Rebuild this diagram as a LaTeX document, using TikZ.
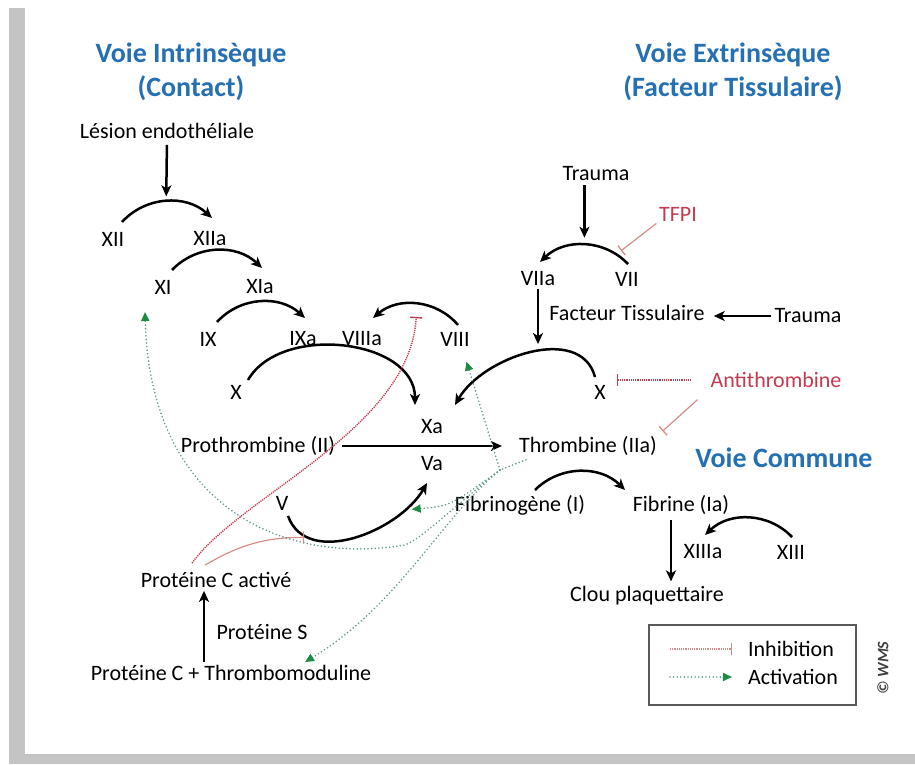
\documentclass[tikz,border=0pt]{standalone}
\usepackage{fontspec}
\setmainfont{Carlito}
\usetikzlibrary{arrows.meta}
\definecolor{voieblue}{RGB}{36,112,178}
\definecolor{inhred}{RGB}{196,58,78}
\definecolor{inhpale}{RGB}{215,140,135}
\definecolor{actdot}{RGB}{100,155,140}
\definecolor{actgreen}{RGB}{28,140,66}
\definecolor{framegray}{RGB}{196,196,196}
\definecolor{boxgray}{RGB}{90,90,90}

\begin{document}
\begin{tikzpicture}[x=1pt,y=1pt]
\tikzstyle{factor}=[inner sep=1pt, font=\fontsize{22}{26}\selectfont]
\tikzstyle{voie}=[align=center, inner sep=1pt, text=voieblue, font=\fontsize{28}{34}\selectfont\bfseries]
\tikzstyle{inhibitor}=[factor, text=inhred]
\tikzstyle{base-edge}=[-{Stealth[length=11pt,width=10pt,inset=3pt]}, line width=2.5pt]
\tikzstyle{inhib-edge}=[-{Bar[width=12pt,line width=1.4pt]}, inhred, line width=1.4pt, dash pattern=on 1.2pt off 1pt]
\tikzstyle{pale-inhib-edge}=[-{Bar[width=12pt,line width=1.3pt]}, inhpale, line width=1.2pt]
\tikzstyle{activ-edge}=[-{Triangle[length=9pt,width=8pt,color=actgreen]}, actdot, line width=1.8pt, line cap=round, dash pattern=on 0pt off 3.6pt]

\useasboundingbox (0,0) rectangle (915,764);
\fill[framegray] (9,10) rectangle (25,756);
\fill[framegray] (9,0) rectangle (915,10);

\node[style=voie] (vint) at (191,692) {Voie Intrinsèque\\(Contact)};
\node[style=voie] (vext) at (733,692) {Voie Extrinsèque\\(Facteur Tissulaire)};
\node[style=voie] (vcom) at (784,306) {Voie Commune};

\node[style=factor] (les) at (167,633) {Lésion endothéliale};
\node[style=factor] (xii) at (113,525) {XII};
\node[style=factor] (xiia) at (210,525) {XIIa};
\node[style=factor] (xi) at (163,477) {XI};
\node[style=factor] (xia) at (260,477) {XIa};
\node[style=factor] (ix) at (208,425) {IX};
\node[style=factor] (ixa) at (303,425) {IXa};
\node[style=factor] (viiia) at (362,425) {VIIIa};
\node[style=factor] (viii) at (455,425) {VIII};
\node[style=factor] (xl) at (236,372) {X};
\node[style=factor] (xa) at (432,337) {Xa};
\node[style=factor] (va) at (432,300) {Va};
\node[style=factor] (proth) at (258,318) {Prothrombine (II)};
\node[style=factor] (thr) at (588,318) {Thrombine (IIa)};
\node[style=factor] (v) at (282,261) {V};
\node[style=factor] (fibg) at (520,259) {Fibrinogène (I)};
\node[style=factor] (fib) at (681,259) {Fibrine (Ia)};
\node[style=factor] (xiiia) at (703,212) {XIIIa};
\node[style=factor] (xiii) at (791,212) {XIII};
\node[style=factor] (clou) at (647,168) {Clou plaquettaire};
\node[style=factor] (trauma1) at (596,590) {Trauma};
\node[style=factor] (viia) at (538,485) {VIIa};
\node[style=factor] (vii) at (627,485) {VII};
\node[style=inhibitor] (tfpi) at (678,550) {TFPI};
\node[style=factor] (ft) at (627,451) {Facteur Tissulaire};
\node[style=factor] (trauma2) at (808,448) {Trauma};
\node[style=factor] (xr) at (600,372) {X};
\node[style=inhibitor] (anti) at (776,384) {Antithrombine};
\node[style=factor] (pca) at (216,184) {Protéine C activé};
\node[style=factor] (ps) at (262,132) {Protéine S};
\node[style=factor] (pct) at (231,91) {Protéine C + Thrombomoduline};

\draw[style=base-edge] ([shift={(9,17)}]xii.center) to[bend left=45] coordinate[pos=0.5] (a1) ([shift={(2,21)}]xiia.center);
\draw[style=base-edge] ([shift={(9,17)}]xi.center) to[bend left=45] ([shift={(2,19)}]xia.center);
\draw[style=base-edge] ([shift={(9,17)}]ix.center) to[bend left=45] ([shift={(2,21)}]ixa.center);
\draw[style=base-edge] ([shift={(3,14)}]viii.center) to[bend right=45] coordinate[pos=0.5] (a4) ([shift={(11,21)}]viiia.center);
\draw[style=base-edge] ([shift={(12,12)}]xl.center) to[out=60,in=90] ([shift={(-17,22)}]xa.center);
\draw[style=base-edge] ([shift={(-5,15)}]xr.center) to[out=105,in=60] coordinate[pos=0.42] (a6) ([shift={(23,22)}]xa.center);
\draw[style=base-edge] ([shift={(6,-13)}]v.center) to[out=-70,in=-120] coordinate[pos=0.2] (a7l) coordinate[pos=0.8] (a7r) ([shift={(-5,-19)}]va.center);
\draw[style=base-edge] ([shift={(15,15)}]fibg.center) to[bend left=45] ([shift={(-56,15)}]fib.center);
\draw[style=base-edge] ([shift={(1,15)}]xiii.center) to[bend right=45] ([shift={(2,17)}]xiiia.center);
\draw[style=base-edge] ([shift={(1,15)}]vii.center) to[bend right=45] coordinate[pos=0.15] (a10s) coordinate[pos=0.5] (a10) ([shift={(2,17)}]viia.center);

\draw[style=base-edge, shorten <=5pt, shorten >=5pt] (les.south) -- (a1);
\draw[style=base-edge, shorten <=3pt, shorten >=7pt] (trauma1.south -| a10) -- (a10);
\draw[style=base-edge, shorten <=2pt, shorten >=6pt] (viia.south) -- (viia.south |- a6);
\draw[style=base-edge, shorten <=2pt, shorten >=8pt] (trauma2.west) -- (trauma2.west -| ft.east);
\draw[style=base-edge, shorten <=6pt, shorten >=16pt] (proth.east) -- (thr.west);
\draw[style=base-edge, shorten <=4pt, shorten >=4pt] ([xshift=-10pt]fib.south) -- ([xshift=-10pt]fib.south |- clou.north);
\draw[style=base-edge, shorten <=2pt, shorten >=2pt] ([xshift=-27pt]pct.north) -- ([xshift=-27pt]pct.north |- pca.south);

\draw[style=pale-inhib-edge, shorten <=2pt, shorten >=6pt] (tfpi.south west) -- (a10s);
\draw[style=inhib-edge, shorten <=18pt, shorten >=10pt] (anti.west) -- (anti.west -| xr.east);
\draw[style=pale-inhib-edge, shorten <=16pt, shorten >=6pt] (anti.south west) -- (thr.north east);
\draw[style=inhib-edge, shorten >=13pt] ([shift={(-24,8)}]pca.north) .. controls (240,268) and (410,335) .. (a4);
\draw[style=pale-inhib-edge, shorten >=3pt] ([shift={(-11,6)}]pca.north) to[bend left=15] (a7l);

\coordinate (hub) at (500,294);
\draw[style=activ-edge, -] ([shift={(8,-3)}]thr.south west) -- (hub);
\draw[style=activ-edge, shorten >=15pt] (hub) -- ([xshift=7pt]viii.south);
\draw[style=activ-edge, shorten >=8pt] (hub) .. controls (450,258) .. (a7r);
\draw[style=activ-edge] (hub) .. controls (440,245) and (400,160) .. ([shift={(74,2)}]pct.north);
\draw[style=activ-edge] (hub) .. controls (445,250) and (425,228) .. (405,219) .. controls (280,198) and (150,260) .. ([shift={(-18,-25)}]xi.center);

\node[style=factor] (inh) at (791,115) {Inhibition};
\node[style=factor] (act) at (793,87) {Activation};
\draw[line width=1.5pt, draw=boxgray] (649,59) rectangle (856,139);
\draw[style=inhib-edge, inhpale] ([xshift=-77pt]inh.west) -- ([xshift=-15pt]inh.west);
\draw[style=activ-edge] ([xshift=-77pt]act.west) -- ([xshift=-15pt]act.west);
\node[rotate=90, text=black!75, font=\fontsize{16}{18}\selectfont\bfseries\itshape] (wms) at (883,96) {© WMS};
\end{tikzpicture}
\end{document}
